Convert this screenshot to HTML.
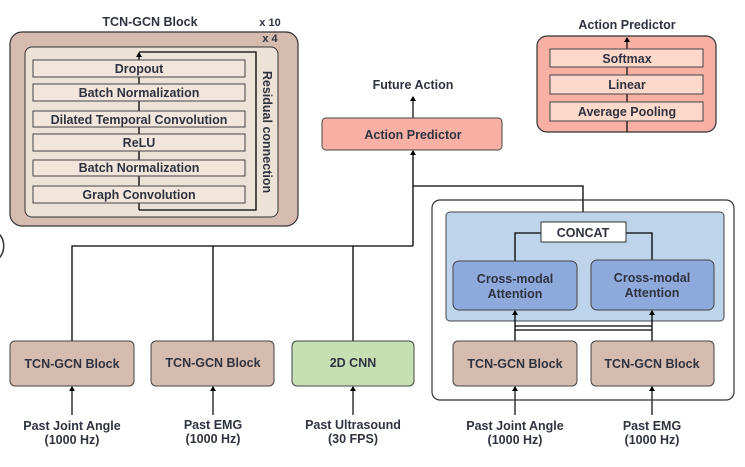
<!DOCTYPE html>
<html><head><meta charset="utf-8"><style>
body{margin:0;background:#fff}
text{font-family:"Liberation Sans",sans-serif;font-weight:bold;fill:#2f3340}
</style></head><body>
<svg width="745" height="462" viewBox="0 0 745 462" xmlns="http://www.w3.org/2000/svg">
<defs>
<marker id="u" markerWidth="6" markerHeight="6" refX="3" refY="1" orient="0" markerUnits="userSpaceOnUse"><path d="M0,5 L3,0 L6,5 Z" fill="#000"/></marker></defs>
<g font-size="12.5" text-anchor="middle">
<!-- TCN-GCN detail -->
<text x="150" y="26">TCN-GCN Block</text>
<text x="270" y="26" font-size="11">x 10</text>
<rect x="10" y="32" width="288" height="194" rx="12" fill="#d5bcae" stroke="#333" stroke-width="1.2"/>
<text x="270" y="42" font-size="11">x 4</text>
<rect x="25" y="47" width="253" height="170" rx="7" fill="#ede2d8" stroke="#333"/>
<line x1="139" y1="210" x2="139" y2="53" stroke="#000" stroke-width="1.3" marker-end="url(#u)"/>
<polyline points="139,210 256,210 256,52 139,52" fill="none" stroke="#000" stroke-width="1.3"/>
<g fill="#f2e5db" stroke="#444">
<rect x="33" y="60" width="212" height="17"/><rect x="33" y="84" width="212" height="17"/>
<rect x="33" y="111" width="212" height="16"/><rect x="33" y="134" width="212" height="17"/>
<rect x="33" y="160" width="212" height="16"/><rect x="33" y="186" width="212" height="17"/></g>
<text x="139" y="73">Dropout</text><text x="139" y="97">Batch Normalization</text>
<text x="139" y="124">Dilated Temporal Convolution</text><text x="139" y="147">ReLU</text>
<text x="139" y="172">Batch Normalization</text><text x="139" y="199">Graph Convolution</text>
<text transform="translate(263,132) rotate(90)">Residual connection</text>
<!-- Action predictor detail -->
<text x="627" y="29">Action Predictor</text>
<rect x="537" y="36" width="179" height="96" rx="10" fill="#f8b0a5" stroke="#333" stroke-width="1.2"/>
<line x1="627" y1="132" x2="627" y2="38" stroke="#000" stroke-width="1.2" marker-end="url(#u)"/>
<g fill="#fdd9cb" stroke="#444"><rect x="550" y="49" width="153" height="18"/><rect x="550" y="75" width="153" height="19"/><rect x="550" y="102" width="153" height="19"/></g>
<text x="627" y="63">Softmax</text><text x="627" y="89">Linear</text><text x="627" y="116">Average Pooling</text>
<!-- main -->
<text x="413" y="89">Future Action</text>
<line x1="413" y1="118" x2="413" y2="97" stroke="#000" stroke-width="1.2" marker-end="url(#u)"/>
<rect x="322" y="118" width="180" height="32" rx="4" fill="#f8b0a5" stroke="#444"/>
<text x="413" y="139">Action Predictor</text>
<g fill="none" stroke="#000" stroke-width="1.3">
<line x1="413" y1="246" x2="413" y2="151" marker-end="url(#u)"/>
<polyline points="413,186 583,186 583,222"/>
<polyline points="72,341 72,246 413,246"/>
<line x1="213" y1="246" x2="213" y2="341"/><line x1="353" y1="246" x2="353" y2="341"/>
</g>
<path d="M-6,232 A9,13 0 0 1 -6,260" fill="none" stroke="#333" stroke-width="1.5"/>
<g stroke="#444">
<rect x="10" y="341" width="124" height="45" rx="5" fill="#d5bcae"/>
<rect x="151" y="341" width="123" height="45" rx="5" fill="#d5bcae"/>
<rect x="292" y="341" width="122" height="45" rx="5" fill="#c6e0b4"/></g>
<text x="72" y="368">TCN-GCN Block</text><text x="213" y="367">TCN-GCN Block</text><text x="353" y="367">2D CNN</text>
<g stroke="#000" stroke-width="1.2">
<line x1="72" y1="415" x2="72" y2="387" marker-end="url(#u)"/>
<line x1="213" y1="415" x2="213" y2="387" marker-end="url(#u)"/>
<line x1="353" y1="415" x2="353" y2="387" marker-end="url(#u)"/>
<line x1="515" y1="415" x2="515" y2="387" marker-end="url(#u)"/>
<line x1="652" y1="415" x2="652" y2="387" marker-end="url(#u)"/></g>
<text x="72" y="430">Past Joint Angle</text><text x="72" y="444">(1000 Hz)</text>
<text x="213" y="429">Past EMG</text><text x="213" y="443">(1000 Hz)</text>
<text x="353" y="429">Past Ultrasound</text><text x="353" y="443">(30 FPS)</text>
<text x="515" y="430">Past Joint Angle</text><text x="515" y="444">(1000 Hz)</text>
<text x="652" y="430">Past EMG</text><text x="652" y="444">(1000 Hz)</text>
<!-- right module -->
<rect x="432" y="200" width="302" height="200" rx="8" fill="none" stroke="#333" stroke-width="1.2"/>
<rect x="446" y="212" width="278" height="109" rx="4" fill="#bdd4ea" stroke="#444"/>
<g fill="none" stroke="#000" stroke-width="1.3">
<polyline points="541,233 515,233 515,261"/><polyline points="626,233 652,233 652,260"/>
<line x1="515" y1="341" x2="515" y2="311" marker-end="url(#u)"/>
<line x1="652" y1="341" x2="652" y2="311" marker-end="url(#u)"/>
<line x1="515" y1="326" x2="652" y2="326"/><line x1="515" y1="330" x2="652" y2="330"/></g>
<rect x="541" y="222" width="85" height="20" fill="#fff" stroke="#333"/>
<text x="583" y="237">CONCAT</text>
<g fill="#8eaadc" stroke="#444"><rect x="453" y="261" width="124" height="49" rx="6"/><rect x="591" y="260" width="123" height="50" rx="6"/></g>
<text x="515" y="283">Cross-modal</text><text x="515" y="298">Attention</text>
<text x="652" y="282">Cross-modal</text><text x="652" y="297">Attention</text>
<g fill="#d5bcae" stroke="#444"><rect x="453" y="341" width="124" height="45" rx="5"/><rect x="591" y="341" width="123" height="45" rx="5"/></g>
<text x="515" y="368">TCN-GCN Block</text><text x="652" y="368">TCN-GCN Block</text>
</g>
</svg>
</body></html>
